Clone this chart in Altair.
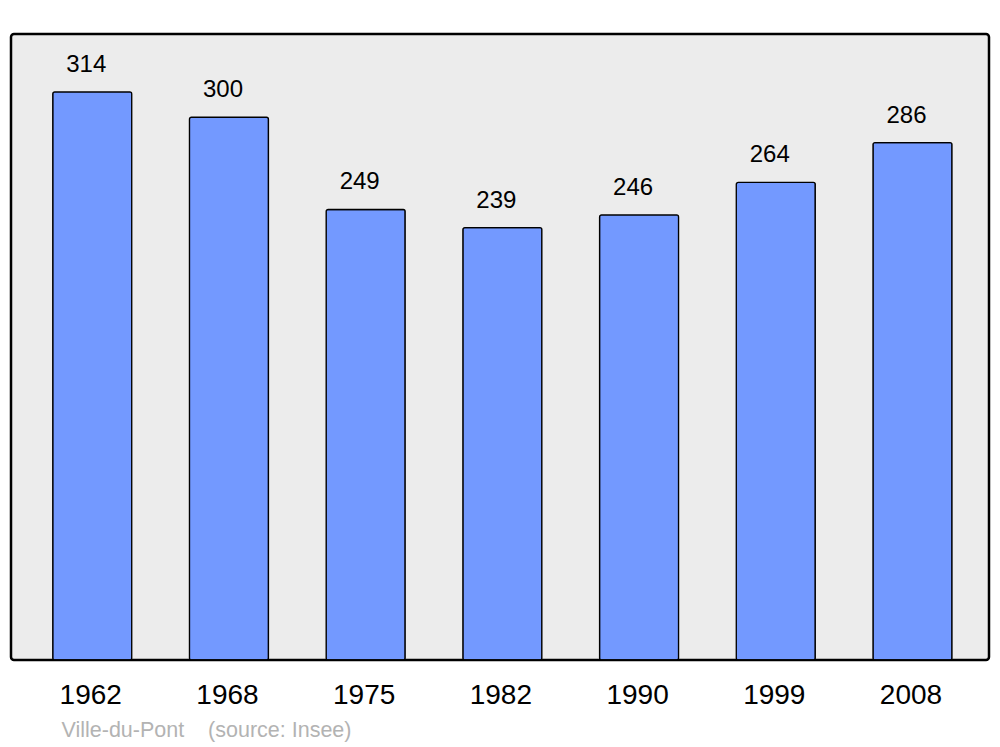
import altair as alt
import pandas as pd

years = ["1962", "1968", "1975", "1982", "1990", "1999", "2008"]
population = [314, 300, 249, 239, 246, 264, 286]

df = pd.DataFrame({"year": years, "pop": population})

x = alt.X(
    "year:N",
    sort=years,
    scale=alt.Scale(paddingInner=0.422, paddingOuter=0.288, align=0.53),
    axis=alt.Axis(
        title="Ville-du-Pont\u00a0\u00a0\u00a0\u00a0(source: Insee)",
        titleFont="Liberation Sans",
        titleFontSize=21.5,
        titleFontWeight="normal",
        titleColor="#b3b3b3",
        titleAnchor="start",
        titleAlign="left",
        titleBaseline="alphabetic",
        titleX=50,
        titleY=76,
        labelAngle=0,
        labelFont="Liberation Sans",
        labelFontSize=28,
        labelColor="#000000",
        labelBaseline="alphabetic",
        labelPadding=43,
        labelOffset=-1.5,
        ticks=False,
        domain=False,
        grid=False,
    ),
)
y = alt.Y("pop:Q", scale=alt.Scale(domain=[0, 346], nice=False, zero=True), axis=None)

bars = alt.Chart(df).mark_bar(
    color="#7399ff", stroke="#000000", strokeWidth=1.3, cornerRadius=2
).encode(x=x, y=y)

labels = alt.Chart(df).mark_text(
    font="Liberation Sans", fontSize=24, color="#000000",
    baseline="alphabetic", align="center", dx=-6, dy=-20
).encode(x=alt.X("year:N", sort=years), y="pop:Q", text="pop:Q")

chart = alt.layer(bars, labels).properties(
    width=978, height=626,
    background="#ffffff",
    autosize=alt.AutoSizeParams(type="none"),
    padding={"left": 3, "top": 26, "right": 3, "bottom": 90},
).configure_view(
    fill="#ececec", stroke="#000000", strokeWidth=2.5, cornerRadius=3
)

chart.save("out.html", embed_options={"renderer": "svg", "actions": False})
